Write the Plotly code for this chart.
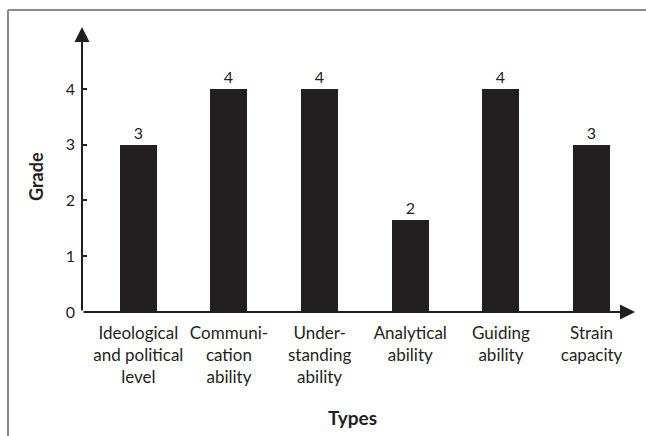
import plotly.graph_objects as go

categories = ["Ideological<br>and political<br>level", "Communi-<br>cation<br>ability",
              "Under-<br>standing<br>ability", "Analytical<br>ability", "Guiding<br>ability",
              "Strain<br>capacity"]
bar_heights = [3, 4, 4, 1.65, 4, 3]
bar_labels = ["3", "4", "4", "2", "4", "3"]
y_ticks = [0, 1, 2, 3, 4]

INK = "#231f20"
FONT = "Lato, 'Open Sans', sans-serif"

# plot-area pixel geometry
W, H = 646, 436
L, R, T, B = 82, 635, 27, 312
x_lo, x_hi = -0.621, 5.479
y_lo, y_hi = 0, 5.11

fig = go.Figure()
fig.add_trace(go.Bar(
    x=list(range(len(categories))), y=bar_heights, text=bar_labels,
    textposition="outside", cliponaxis=False,
    textfont=dict(size=16, color=INK, family=FONT),
    marker=dict(color=INK, line=dict(width=0)), width=0.408,
    hoverinfo="skip",
))

def px_x(p):
    return (p - L) / (R - L)

def px_y(p):
    return (B - p) / (B - T)

shapes = [
    dict(type="line", xref="paper", yref="paper", x0=px_x(8), x1=px_x(W + 5),
         y0=px_y(10), y1=px_y(10), line=dict(color="#8a8a8a", width=2)),
    dict(type="line", xref="paper", yref="paper", x0=px_x(8), x1=px_x(8),
         y0=px_y(10), y1=px_y(H + 5), line=dict(color="#8a8a8a", width=2)),
]

annotations = [
    dict(x=x_lo, y=y_hi, ax=x_lo, ay=0, xref="x", yref="y", axref="x", ayref="y",
         showarrow=True, arrowhead=2, arrowsize=1.5, arrowwidth=2, arrowcolor=INK, text=""),
    dict(x=x_hi, y=0, ax=x_lo, ay=0, xref="x", yref="y", axref="x", ayref="y",
         showarrow=True, arrowhead=2, arrowsize=1.5, arrowwidth=2, arrowcolor=INK, text=""),
    dict(text="<b>Grade</b>", xref="paper", yref="paper", x=px_x(36), y=px_y(177),
         xanchor="center", yanchor="middle",
         textangle=-90, showarrow=False, font=dict(size=18, color=INK, family=FONT)),
    dict(text="<b>Types</b>", xref="paper", yref="paper", x=px_x(352), y=px_y(417),
         xanchor="center", yanchor="middle",
         showarrow=False, font=dict(size=19, color=INK, family=FONT)),
]

fig.update_layout(
    width=W, height=H, margin=dict(l=L, r=W - R, t=T, b=H - B),
    plot_bgcolor="white", paper_bgcolor="white", showlegend=False,
    font=dict(family=FONT, color=INK),
    shapes=shapes, annotations=annotations, bargap=0,
    xaxis=dict(range=[x_lo, x_hi], tickmode="array", tickvals=list(range(len(categories))),
               ticktext=categories, showline=False, showgrid=False, zeroline=False,
               ticks="", tickfont=dict(size=17, color=INK, family=FONT), ticklabelstandoff=9),
    yaxis=dict(range=[y_lo, y_hi], tickmode="array", tickvals=y_ticks,
               ticktext=[str(v) for v in y_ticks], showline=False, showgrid=False,
               zeroline=False, ticks="inside", ticklen=5, tickwidth=2, tickcolor=INK,
               tickfont=dict(size=16, color=INK, family=FONT), ticklabelstandoff=6),
)

fig.write_html("out.html", config={"displayModeBar": False},
               post_script="document.body.style.margin='0';document.body.style.overflow='hidden';")
